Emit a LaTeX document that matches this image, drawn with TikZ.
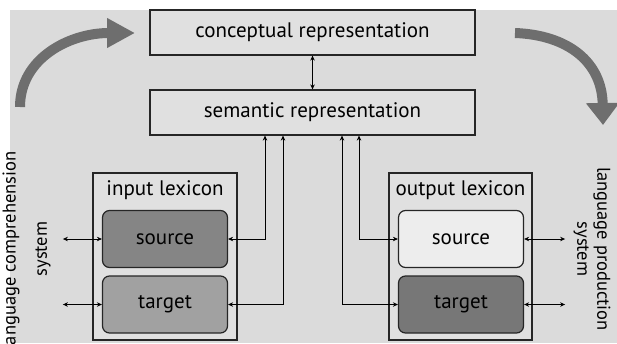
\documentclass[tikz,border=0pt]{standalone}
\usepackage{fontspec}
\setmainfont{PT Sans}
\usetikzlibrary{arrows.meta}

\definecolor{bggray}{gray}{0.86}
\definecolor{boxgray}{gray}{0.88}
\definecolor{arrowgray}{gray}{0.43}
\definecolor{darkfill}{gray}{0.52}
\definecolor{midfill}{gray}{0.63}
\definecolor{lightfill}{gray}{0.93}

\begin{document}
\begin{tikzpicture}[x=1pt, y=-1pt,
	font=\fontsize{21}{24}\selectfont,
	box/.style={draw=black!85, line width=1.2pt, fill=boxgray, inner sep=0pt},
	lexbox/.style={draw=black!85, line width=1.2pt, rounded corners=7pt,
		minimum width=125pt, minimum height=57pt, inner sep=0pt},
	side/.style={font=\fontsize{18.5}{20}\selectfont, inner sep=0pt},
	link/.style={{Stealth[length=5pt,width=4.5pt]}-{Stealth[length=5pt,width=4.5pt]}, line width=0.9pt},
	bigarrow/.style={draw=arrowgray, line width=10pt}]

	\useasboundingbox (0,0) rectangle (617,343);
	\fill[white] (0,0) rectangle (617,343);
	\fill[bggray] (10,10) rectangle (617,343);

	% upper levels
	\node[box, minimum width=325pt, minimum height=45pt] (conc) at (312.5,32.5) {conceptual representation};
	\node[box, minimum width=325pt, minimum height=45pt] (sem) at (312.5,112.5) {semantic representation};

	% lexicons
	\node[box, minimum width=144pt, minimum height=167pt] (inlex) at (165,256.5) {};
	\node (inlab) at (165,190) {input lexicon};
	\node[lexbox, fill=darkfill] (insrc) at (165,239) {source};
	\node[lexbox, fill=midfill] (intgt) at (165,304.5) {target};

	\node[box, minimum width=143pt, minimum height=167pt] (outlex) at (460.5,256.5) {};
	\node (outlab) at (460.5,190) {output lexicon};
	\node[lexbox, fill=lightfill] (outsrc) at (461,239) {source};
	\node[lexbox, fill=darkfill!90!black] (outtgt) at (461,304.5) {target};

	% side labels
	\node[side, rotate=90] (comp) at (11,251) {language comprehension};
	\node[side, rotate=90] (compsys) at (43,249) {system};
	\node[side, rotate=-90, align=center] (prod) at (592,249) {language production\\system};

	\draw[link] (conc) -- (sem);
	\draw[link] (insrc.east) -| ([xshift=-47.5pt]sem.south);
	\draw[link] (intgt.east) -| ([xshift=-29.5pt]sem.south);
	\draw[link] (outsrc.west) -| ([xshift=46.5pt]sem.south);
	\draw[link] (outtgt.west) -| ([xshift=29.5pt]sem.south);

	\draw[link] (insrc.west) -- ++(-39,0);
	\draw[link] (intgt.west) -- ++(-39,0);
	\draw[link] (outsrc.east) -- ++(41,0);
	\draw[link] (outtgt.east) -- ++(41,0);

	% flow arrows
	\draw[bigarrow, -{Triangle[length=28pt,width=28pt]}] (20,107) .. controls (20,58) and (70,33) .. (135,33);
	\draw[bigarrow, -{Triangle[length=22pt,width=32pt]}] (515,33) .. controls (568,35) and (602,62) .. (603,125);
	%\draw[bigarrow] (515,33) arc (90:0:88);

\end{tikzpicture}
\end{document}
